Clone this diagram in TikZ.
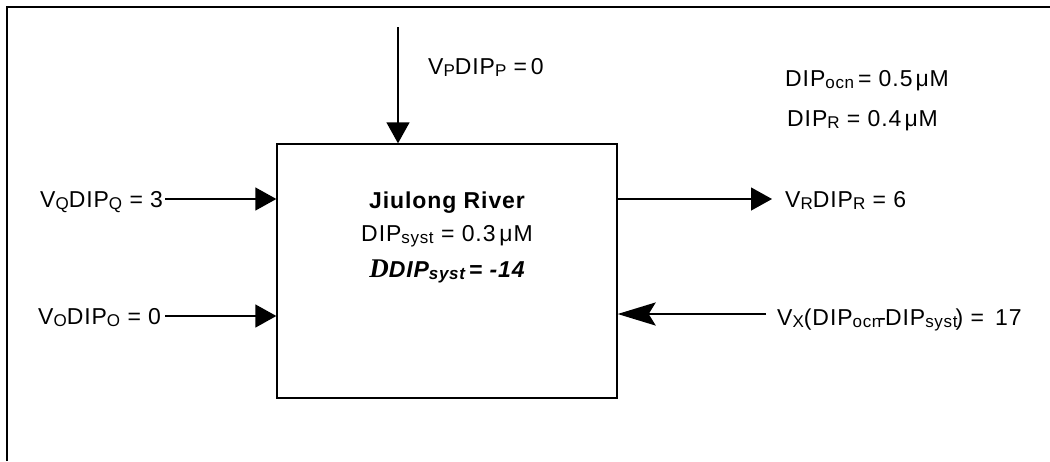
\documentclass[tikz,border=0pt]{standalone}
\usepackage{fontspec}
\setmainfont{Liberation Sans}[LetterSpace=4]
\newfontfamily\serifD{Liberation Serif}
\usetikzlibrary{arrows.meta}
\newcommand\sbs[1]{\raisebox{-0.09em}{\scalebox{0.74}{#1}}}
\newcommand\fsz[1]{\fontsize{#1}{#1}\selectfont}
\tikzset{
  frame/.style={line width=2pt},
  flow/.style={line width=1.3pt,-{Triangle[length=21pt,width=23pt]}},
  thickflow/.style={line width=2.6pt,-{Stealth[length=38pt,width=23pt,inset=7pt]}},
  lbl/.style={anchor=base west,inner sep=0pt,font=\fsz{23}},
  sidelbl/.style={anchor=base west,inner sep=0pt,font=\fsz{23}},
  riverbox/.style={draw,line width=1.3pt,minimum width=340pt,minimum height=254pt,inner sep=0pt}
}
\begin{document}
\begin{tikzpicture}[x=1pt,y=-1pt]
\useasboundingbox (0,0) rectangle (1050,461);
% open frame: top and left edges only
\draw[frame] (7,461) -- (7,7) -- (1050,7);

% the estuary box
\node[riverbox] (box) at (447,271) {};
\node[anchor=base,inner sep=0pt,font=\fsz{23}\bfseries] (title) at (447,208) {Jiulong River};
\node[anchor=base,inner sep=0pt,font=\fsz{23}] (conc) at (447,241) {DIP\sbs{syst} = 0.3\,μM};
\node[anchor=base,inner sep=0pt,font=\fsz{23}\bfseries\itshape] (delta) at (447,277)
  {{\serifD\fsz{27}\bfseries\itshape D}DIP\sbs{syst}\,= -14};

% labels
\node[lbl] (vp) at (428,74) {V\sbs{P}DIP\sbs{P} =\,0};
\node[sidelbl] (ocn) at (785,86) {DIP\sbs{ocn}\,= 0.5\kern3ptμM};
\node[sidelbl] (dipr) at (787,126) {DIP\sbs{R} = 0.4\kern3ptμM};
\node[lbl] (vq) at (40,207) {V\sbs{Q}DIP\sbs{Q} = 3};
\node[lbl] (vo) at (38,324) {V\sbs{O}DIP\sbs{O} = 0};
\node[lbl] (vr) at (785,207) {V\sbs{R}DIP\sbs{R} = 6};
\node[lbl] (vx) at (777,325) {V\sbs{X}(DIP\sbs{ocn}\kern-3pt-\kern-1ptDIP\sbs{syst}\kern-2pt) = \,17};

% flux arrows
\coordinate (ptop) at (398,27);
\coordinate (qin) at (165,199);
\coordinate (oin) at (165,316);
\coordinate (rout) at (772,199);
\coordinate (xin) at (766,314);
\draw[flow] (ptop) -- (ptop |- box.north);
\draw[flow] (qin) -- (qin -| box.west);
\draw[flow] (oin) -- (oin -| box.west);
\draw[flow] (rout -| box.east) -- (rout);
\draw[thickflow] (xin) -- (xin -| box.east);
\end{tikzpicture}
\end{document}
